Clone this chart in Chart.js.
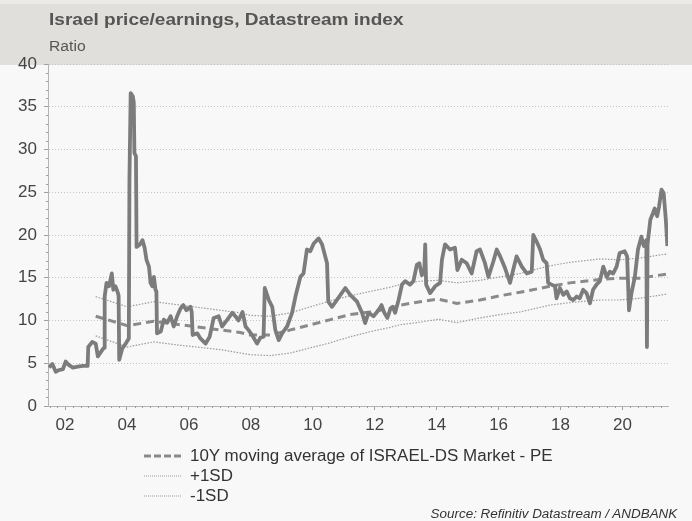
<!DOCTYPE html>
<html>
<head>
<meta charset="utf-8">
<script src="https://cdn.jsdelivr.net/npm/chart.js@4.4.1/dist/chart.umd.min.js"></script>
<style>
  body { margin: 0; width: 692px; height: 521px; background: #f8f8f8; position: relative; overflow: hidden;
         font-family: "Liberation Sans", Arial, sans-serif; }
  #head { position: absolute; left: 0; top: 0; width: 692px; height: 65px; background: #e0dfdb;
          border-top: 4px solid #eaeae8; box-sizing: border-box; }
  .txt { position: absolute; white-space: nowrap; transform-origin: 0 0; }
  #title { left: 49px; top: 10px; font-size: 17px; font-weight: bold; color: #555; transform: scaleX(1.12); }
  #sub { left: 49px; top: 38px; font-size: 14px; color: #555; transform: scaleX(1.12); }
  #wrap { position: absolute; left: 0; top: 0; width: 692px; height: 521px; }
  #legend { position: absolute; left: 144px; top: 446px; font-size: 16px; color: #333; }
  .item { height: 20px; display: flex; align-items: center; }
  .item svg { flex: none; margin-right: 8px; }
  .item span { display: inline-block; transform: scaleX(1.06); transform-origin: 0 50%; white-space: nowrap; }
  #source { right: 15px; top: 507px; font-size: 12px; font-style: italic; color: #333;
            transform: scaleX(1.12); transform-origin: 100% 0; }
</style>
</head>
<body>
<div id="head"></div>
<div id="wrap"><canvas id="peChart" width="692" height="521"></canvas></div>
<div class="txt" id="title">Israel price/earnings, Datastream index</div>
<div class="txt" id="sub">Ratio</div>
<div id="legend">
  <div class="item"><svg width="38" height="6"><line x1="0" y1="3" x2="38" y2="3" stroke="#8a8a8a" stroke-width="3" stroke-dasharray="7,3"/></svg><span>10Y moving average of ISRAEL-DS Market - PE</span></div>
  <div class="item"><svg width="38" height="6"><line x1="0" y1="3" x2="38" y2="3" stroke="#9a9a9a" stroke-width="1" stroke-dasharray="1,1"/></svg><span>+1SD</span></div>
  <div class="item"><svg width="38" height="6"><line x1="0" y1="3" x2="38" y2="3" stroke="#9a9a9a" stroke-width="1" stroke-dasharray="1,1"/></svg><span>-1SD</span></div>
</div>
<div class="txt" id="source">Source: Refinitiv Datastream / ANDBANK</div>

<script>
// P/E ratio, dates as decimal years
const peDates = [
  2001.48, 2001.59, 2001.70, 2001.80, 2001.93, 2002.02, 2002.12, 2002.25, 2002.41, 2002.57,
  2002.73, 2002.75, 2002.88, 2002.99, 2003.06, 2003.21, 2003.26, 2003.28, 2003.34, 2003.42,
  2003.51, 2003.56, 2003.63, 2003.71, 2003.73, 2003.75, 2003.85, 2003.96, 2004.06, 2004.08,
  2004.12, 2004.19, 2004.22, 2004.24, 2004.29, 2004.31, 2004.42, 2004.50, 2004.57, 2004.63,
  2004.71, 2004.76, 2004.82, 2004.87, 2004.92, 2004.95, 2004.97, 2005.09, 2005.19, 2005.30,
  2005.41, 2005.51, 2005.62, 2005.73, 2005.82, 2005.92, 2006.05, 2006.09, 2006.12, 2006.27,
  2006.37, 2006.54, 2006.67, 2006.80, 2006.96, 2007.07, 2007.24, 2007.40, 2007.50, 2007.60,
  2007.73, 2007.83, 2007.92, 2008.04, 2008.20, 2008.31, 2008.41, 2008.45, 2008.58, 2008.69,
  2008.79, 2008.90, 2009.01, 2009.17, 2009.33, 2009.44, 2009.60, 2009.70, 2009.81, 2009.92,
  2010.03, 2010.19, 2010.30, 2010.46, 2010.50, 2010.62, 2010.78, 2011.05, 2011.21, 2011.43,
  2011.59, 2011.69, 2011.80, 2011.96, 2012.12, 2012.22, 2012.31, 2012.41, 2012.51, 2012.58,
  2012.66, 2012.77, 2012.88, 2012.98, 2013.14, 2013.25, 2013.36, 2013.44, 2013.52, 2013.60,
  2013.63, 2013.66, 2013.79, 2013.95, 2014.11, 2014.17, 2014.27, 2014.43, 2014.59, 2014.67,
  2014.81, 2014.97, 2015.13, 2015.29, 2015.40, 2015.56, 2015.67, 2015.83, 2015.94, 2016.05,
  2016.21, 2016.37, 2016.47, 2016.58, 2016.75, 2016.91, 2017.07, 2017.12, 2017.23, 2017.34,
  2017.44, 2017.55, 2017.60, 2017.71, 2017.82, 2017.87, 2017.98, 2018.09, 2018.20, 2018.30,
  2018.41, 2018.52, 2018.62, 2018.73, 2018.84, 2018.95, 2019.05, 2019.16, 2019.27, 2019.38,
  2019.49, 2019.59, 2019.70, 2019.81, 2019.91, 2020.07, 2020.15, 2020.21, 2020.29, 2020.40,
  2020.50, 2020.61, 2020.69, 2020.77, 2020.79, 2020.81, 2020.90, 2020.99, 2021.04, 2021.12,
  2021.18, 2021.26, 2021.33, 2021.40, 2021.45
];
const peValues = [
  4.5, 4.9, 4.0, 4.2, 4.3, 5.2, 4.8, 4.5, 4.6, 4.7,
  4.7, 6.9, 7.5, 7.3, 5.8, 6.6, 6.8, 12.8, 14.4, 14.0,
  15.5, 13.6, 14.0, 13.2, 12.9, 5.4, 6.75, 7.3, 7.9, 26.5,
  36.6, 36.2, 35.5, 29.6, 29.2, 18.6, 18.9, 19.4, 18.5, 17.1,
  16.3, 14.4, 14.0, 15.1, 13.6, 13.4, 8.5, 8.7, 10.1, 9.75,
  10.5, 9.3, 10.5, 11.4, 11.8, 11.2, 11.6, 11.0, 8.3, 8.5,
  7.9, 7.3, 8.1, 10.3, 10.5, 9.3, 10.1, 10.9, 10.5, 10.0,
  11.0, 9.3, 8.9, 8.3, 7.3, 8.0, 8.1, 13.8, 12.4, 11.6,
  8.9, 7.7, 8.5, 9.3, 10.9, 12.8, 15.1, 15.5, 18.3, 18.1,
  19.0, 19.6, 18.9, 16.7, 12.2, 11.6, 12.4, 13.8, 13.0, 12.2,
  10.9, 9.7, 10.9, 10.5, 11.2, 11.8, 10.9, 10.3, 11.4, 11.6,
  10.9, 12.4, 14.2, 14.6, 14.2, 14.6, 16.5, 16.7, 15.3, 15.8,
  18.9, 14.2, 13.2, 14.0, 14.4, 17.1, 18.9, 18.3, 18.5, 15.9,
  17.1, 16.7, 15.5, 18.1, 18.3, 16.7, 15.1, 16.9, 18.3, 17.5,
  16.1, 14.4, 15.9, 17.5, 16.3, 15.5, 15.7, 20.0, 19.2, 18.3,
  17.1, 16.7, 14.4, 14.2, 14.0, 12.6, 13.8, 13.0, 13.4, 12.6,
  12.4, 12.8, 12.6, 13.6, 13.2, 12.0, 13.6, 14.2, 14.6, 16.3,
  15.1, 15.7, 15.5, 16.3, 17.9, 18.1, 17.5, 11.2, 13.2, 15.1,
  18.3, 19.8, 18.7, 19.4, 6.9, 18.9, 21.8, 22.6, 23.1, 22.2,
  23.3, 25.3, 24.9, 21.8, 18.7
];

// 10Y moving average and +/- 1 standard deviation
const bandDates = [
  2002.99, 2004.01, 2004.86, 2005.73, 2007.00, 2007.66, 2007.98, 2008.63, 2009.28, 2009.92,
  2010.57, 2011.21, 2011.86, 2012.50, 2012.82, 2013.47, 2014.05, 2014.65, 2015.40, 2016.05,
  2016.69, 2017.66, 2018.30, 2019.27, 2019.91, 2020.55, 2021.46
];
const maValues = [
  10.5, 9.4, 9.9, 9.5, 8.9, 8.6, 8.3, 8.3, 8.9, 9.5,
  10.1, 10.7, 11.0, 11.4, 11.8, 12.2, 12.5, 12.0, 12.4, 12.9,
  13.3, 14.0, 14.4, 14.8, 14.95, 14.95, 15.45
];
const upperValues = [
  12.8, 11.6, 12.2, 11.8, 11.2, 10.9, 10.6, 10.5, 10.9, 11.6,
  12.3, 12.9, 13.4, 13.9, 14.2, 14.6, 14.7, 14.4, 14.7, 15.1,
  15.5, 16.4, 16.8, 17.2, 17.1, 17.3, 17.8
];
const lowerValues = [
  8.2, 6.9, 7.5, 7.1, 6.6, 6.2, 6.0, 5.9, 6.2, 6.8,
  7.4, 8.1, 8.7, 9.2, 9.5, 9.8, 10.15, 9.75, 10.3, 10.7,
  11.0, 11.8, 12.1, 12.4, 12.4, 12.6, 13.1
];

const yearTicks = [2002, 2004, 2006, 2008, 2010, 2012, 2014, 2016, 2018, 2020];

const toPoints = (xs, ys) => xs.map((x, i) => ({ x: x, y: ys[i] }));

// short minor ticks: each unit on y, each quarter on x
const minorTicks = {
  id: "minorTicks",
  afterDraw(chart) {
    const { ctx, chartArea, scales } = chart;
    ctx.save();
    ctx.strokeStyle = "#a0a0a0";
    ctx.lineWidth = 1;
    ctx.beginPath();
    for (let v = 1; v < 40; v++) {
      if (v % 5 === 0) continue;
      const y = Math.round(scales.y.getPixelForValue(v)) + 0.5;
      ctx.moveTo(chartArea.left - 2, y);
      ctx.lineTo(chartArea.left, y);
    }
    for (let q = 2001.5; q < 2021.5; q += 0.25) {
      if (yearTicks.includes(q)) continue;
      const x = Math.round(scales.x.getPixelForValue(q)) + 0.5;
      ctx.moveTo(x, chartArea.bottom);
      ctx.lineTo(x, chartArea.bottom + 2);
    }
    ctx.stroke();
    ctx.restore();
  }
};

const ctx = document.getElementById("peChart").getContext("2d");
const peChart = new Chart(ctx, {
  type: "line",
  data: {
    datasets: [
      {
        label: "ISRAEL-DS Market - PE",
        data: toPoints(peDates, peValues),
        borderColor: "#7c7c7c",
        borderWidth: 3.8,
        borderJoinStyle: "round"
      },
      {
        label: "10Y moving average of ISRAEL-DS Market - PE",
        data: toPoints(bandDates, maValues),
        borderColor: "#8a8a8a",
        borderWidth: 3,
        borderDash: [8, 5]
      },
      {
        label: "+1SD",
        data: toPoints(bandDates, upperValues),
        borderColor: "#9a9a9a",
        borderWidth: 1.2,
        borderDash: [1.5, 1.5]
      },
      {
        label: "-1SD",
        data: toPoints(bandDates, lowerValues),
        borderColor: "#9a9a9a",
        borderWidth: 1.2,
        borderDash: [1.5, 1.5]
      }
    ]
  },
  options: {
    responsive: false,
    animation: false,
    parsing: false,
    elements: { point: { radius: 0 }, line: { tension: 0, fill: false } },
    layout: { padding: { left: 0, top: 64, right: 24, bottom: 75 } },
    plugins: { legend: { display: false }, tooltip: { enabled: false } },
    scales: {
      x: {
        type: "linear",
        min: 2001.45,
        max: 2021.47,
        afterFit: (s) => { s.height = 40; },
        afterBuildTicks: (s) => { s.ticks = yearTicks.map((v) => ({ value: v })); },
        grid: { drawOnChartArea: false, tickLength: 4, tickColor: "#a0a0a0" },
        border: { color: "#b4b4b4" },
        ticks: {
          padding: 5,
          color: "#444",
          font: { family: "'Liberation Sans', Arial, sans-serif", size: 17 },
          maxRotation: 0,
          callback: (v) => String(v).slice(2)
        }
      },
      y: {
        min: 0,
        max: 40,
        afterFit: (s) => { s.width = 48; },
        grid: { color: "#c4c4c4", tickLength: 4, tickColor: "#a0a0a0", tickBorderDash: [] },
        border: { color: "#b4b4b4", dash: [1, 2] },
        ticks: {
          stepSize: 5,
          padding: 7,
          color: "#444",
          font: { family: "'Liberation Sans', Arial, sans-serif", size: 17 }
        }
      }
    }
  },
  plugins: [minorTicks]
});
</script>
</body>
</html>
